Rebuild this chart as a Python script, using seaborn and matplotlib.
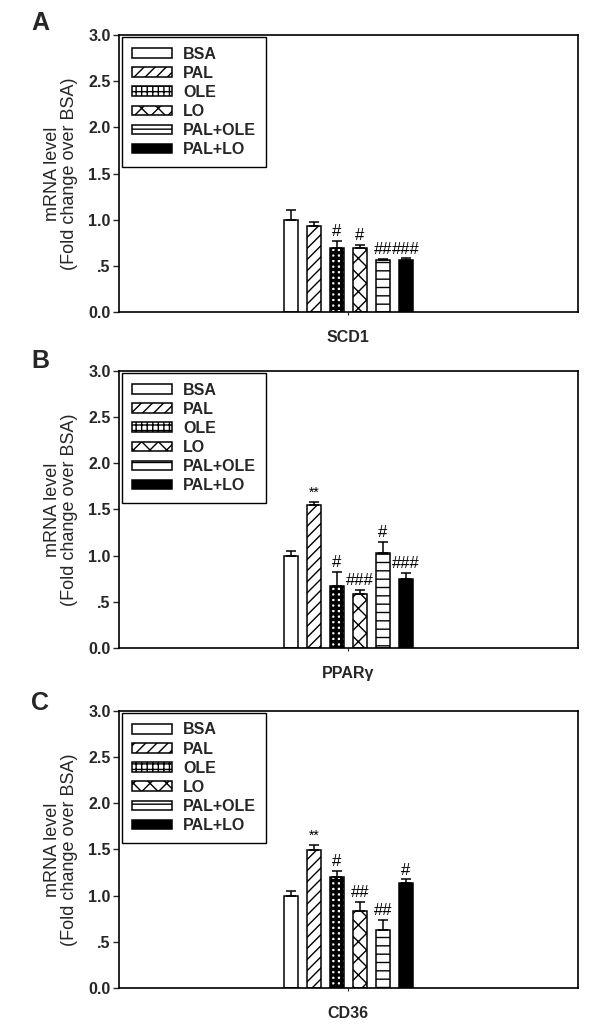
"""
mRNA levels of SCD1, PPARg and CD36 after fatty acid treatment (fold change over BSA).
Three stacked panels, hatched bars, upper error bars and significance marks.
"""

import numpy as np
import pandas as pd
import matplotlib
matplotlib.use("Agg")
import matplotlib.pyplot as plt
import seaborn as sns

sns.set_style("white")
plt.rcParams['font.family'] = ['Liberation Sans', 'DejaVu Sans']
plt.rcParams['hatch.linewidth'] = 1.0

# Data
treatments = ["BSA", "PAL", "OLE", "LO", "PAL+OLE", "PAL+LO"]
genes = ["SCD1", "PPARγ", "CD36"]
panel_letters = ["A", "B", "C"]

scd1_mean = [1.00, 0.93, 0.69, 0.69, 0.56, 0.56]
scd1_err = [0.10, 0.04, 0.08, 0.04, 0.015, 0.02]
scd1_marks = ["", "", "#", "#", "##", "###"]

ppar_mean = [1.00, 1.55, 0.67, 0.59, 1.03, 0.745]
ppar_err = [0.05, 0.03, 0.15, 0.04, 0.12, 0.07]
ppar_marks = ["", "**", "#", "###", "#", "###"]

cd36_mean = [1.00, 1.49, 1.20, 0.83, 0.625, 1.135]
cd36_err = [0.05, 0.06, 0.07, 0.10, 0.11, 0.04]
cd36_marks = ["", "**", "#", "##", "##", "#"]

means = [scd1_mean, ppar_mean, cd36_mean]
errs = [scd1_err, ppar_err, cd36_err]
marks = [scd1_marks, ppar_marks, cd36_marks]

fill_colors = ["white", "white", "white", "white", "white", "black"]
hatches = ["", "///", "+++", "xx", "--", ""]
hatch_widths = [1.0, 1.0, 2.4, 1.0, 1.0, 1.0]
palette = dict(zip(treatments, fill_colors))

fig = plt.figure(figsize=(6, 10.24), dpi=100)
axes_bottoms = [0.6953, 0.3672, 0.0352]
letter_y = [0.9707, 0.6406, 0.3066]

for k in range(3):
    ax = fig.add_axes([0.198, axes_bottoms[k], 0.765, 0.2705])
    df = pd.DataFrame({"gene": genes[k], "treatment": treatments, "value": means[k]})

    sns.barplot(data=df, x="gene", y="value", hue="treatment", hue_order=treatments,
                palette=palette, width=0.3, gap=0.375, edgecolor="black",
                linewidth=1.1, errorbar=None, legend=False, ax=ax)

    bars = [cont[0] for cont in ax.containers]
    for i, bar in enumerate(bars):
        bar.set_hatch(hatches[i])
        if hasattr(bar, "set_hatch_linewidth"):
            bar.set_hatch_linewidth(hatch_widths[i])
        xc = bar.get_x() + bar.get_width() / 2
        top = bar.get_height()
        ax.errorbar(xc, top, yerr=[[0], [errs[k][i]]], fmt="none", ecolor="black",
                    elinewidth=1.1, capsize=3.5, capthick=1.1, zorder=3)
        if marks[k][i]:
            fs = 10 if marks[k][i] == "**" else 12
            ax.text(xc, top + errs[k][i] + 0.02, marks[k][i], ha="center", va="bottom",
                    fontsize=fs, color="black")

    ax.set_xlim(-0.5, 0.5)
    ax.set_ylim(0, 3.0)
    ax.set_yticks([0, 0.5, 1.0, 1.5, 2.0, 2.5, 3.0])
    ax.set_yticklabels(["0.0", ".5", "1.0", "1.5", "2.0", "2.5", "3.0"],
                       fontsize=11.5, fontweight="bold")
    ax.set_xticks([0])
    ax.set_xticklabels([genes[k]], fontsize=11.5, fontweight="bold")
    ax.tick_params(axis="y", direction="out", length=4, width=1, pad=2, left=True)
    ax.tick_params(axis="x", direction="out", length=2, width=0.8, pad=11, bottom=True)
    ax.set_xlabel("")
    ax.set_ylabel("mRNA level\n(Fold change over BSA)", fontsize=13, labelpad=7,
                  linespacing=1.05)
    for side in ["left", "right", "top", "bottom"]:
        ax.spines[side].set_visible(True)
        ax.spines[side].set_color("black")
        ax.spines[side].set_linewidth(1.2)

    leg = ax.legend(handles=bars, labels=treatments, loc="upper left",
                    bbox_to_anchor=(0.008, 0.993), borderaxespad=0, frameon=True,
                    fancybox=False, edgecolor="black", framealpha=1,
                    prop={"size": 11.5, "weight": "bold"}, handlelength=2.5,
                    handleheight=0.55, handletextpad=0.7, labelspacing=0.26,
                    borderpad=0.6)
    leg.get_frame().set_linewidth(1.0)

    fig.text(0.052, letter_y[k], panel_letters[k],
             fontsize=18, fontweight="bold", ha="left", va="baseline")

fig.savefig("out.png", dpi=100)
